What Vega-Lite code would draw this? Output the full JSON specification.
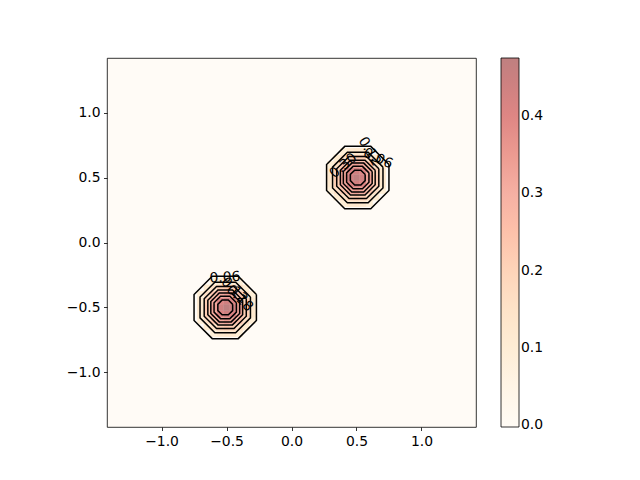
{
  "$schema": "https://vega.github.io/schema/vega-lite/v6.json",
  "width": 369,
  "height": 369,
  "autosize": {"type": "none"},
  "padding": {"left": 107, "top": 58, "right": 164, "bottom": 53},
  "background": "white",
  "config": {
    "view": {"fill": "#fffbf6", "stroke": "black", "strokeWidth": 0.8},
    "axis": {
      "grid": false,
      "domain": false,
      "tickColor": "black",
      "tickSize": 3.5,
      "tickWidth": 0.8,
      "labelFont": "DejaVu Sans",
      "labelFontSize": 13.9,
      "labelColor": "black",
      "labelPadding": 3.5,
      "title": null
    },
    "legend": {
      "gradientLength": 369,
      "gradientThickness": 18,
      "offset": 25,
      "padding": 0,
      "labelFont": "DejaVu Sans",
      "labelFontSize": 13.9,
      "labelColor": "black",
      "labelOffset": 7,
      "gradientStrokeColor": "black",
      "gradientStrokeWidth": 0.8
    },
    "text": {"font": "DejaVu Sans", "fontSize": 13.9}
  },
  "datasets": {
    "heat": [
      {"x": 0.5, "y": 0.3, "v": 0.132}, {"x": 0.5, "y": 0.35, "v": 0.231}, {"x": 0.5, "y": 0.4, "v": 0.345}, {"x": 0.5, "y": 0.45, "v": 0.438}, {"x": 0.5, "y": 0.5, "v": 0.475}, {"x": 0.5, "y": 0.55, "v": 0.438}, {"x": 0.5, "y": 0.6, "v": 0.345}, {"x": 0.5, "y": 0.65, "v": 0.231}, {"x": 0.5, "y": 0.7, "v": 0.132},
      {"x": 0.45, "y": 0.3, "v": 0.122}, {"x": 0.45, "y": 0.35, "v": 0.213}, {"x": 0.45, "y": 0.4, "v": 0.318}, {"x": 0.45, "y": 0.45, "v": 0.405}, {"x": 0.45, "y": 0.5, "v": 0.438}, {"x": 0.45, "y": 0.55, "v": 0.405}, {"x": 0.45, "y": 0.6, "v": 0.318}, {"x": 0.45, "y": 0.65, "v": 0.213}, {"x": 0.45, "y": 0.7, "v": 0.122},
      {"x": 0.55, "y": 0.3, "v": 0.122}, {"x": 0.55, "y": 0.35, "v": 0.213}, {"x": 0.55, "y": 0.4, "v": 0.318}, {"x": 0.55, "y": 0.45, "v": 0.405}, {"x": 0.55, "y": 0.5, "v": 0.438}, {"x": 0.55, "y": 0.55, "v": 0.405}, {"x": 0.55, "y": 0.6, "v": 0.318}, {"x": 0.55, "y": 0.65, "v": 0.213}, {"x": 0.55, "y": 0.7, "v": 0.122},
      {"x": 0.4, "y": 0.3, "v": 0.096}, {"x": 0.4, "y": 0.35, "v": 0.168}, {"x": 0.4, "y": 0.4, "v": 0.25}, {"x": 0.4, "y": 0.45, "v": 0.318}, {"x": 0.4, "y": 0.5, "v": 0.345}, {"x": 0.4, "y": 0.55, "v": 0.318}, {"x": 0.4, "y": 0.6, "v": 0.25}, {"x": 0.4, "y": 0.65, "v": 0.168}, {"x": 0.4, "y": 0.7, "v": 0.096},
      {"x": 0.6, "y": 0.3, "v": 0.096}, {"x": 0.6, "y": 0.35, "v": 0.168}, {"x": 0.6, "y": 0.4, "v": 0.25}, {"x": 0.6, "y": 0.45, "v": 0.318}, {"x": 0.6, "y": 0.5, "v": 0.345}, {"x": 0.6, "y": 0.55, "v": 0.318}, {"x": 0.6, "y": 0.6, "v": 0.25}, {"x": 0.6, "y": 0.65, "v": 0.168}, {"x": 0.6, "y": 0.7, "v": 0.096},
      {"x": 0.35, "y": 0.35, "v": 0.113}, {"x": 0.35, "y": 0.4, "v": 0.168}, {"x": 0.35, "y": 0.45, "v": 0.213}, {"x": 0.35, "y": 0.5, "v": 0.231}, {"x": 0.35, "y": 0.55, "v": 0.213}, {"x": 0.35, "y": 0.6, "v": 0.168}, {"x": 0.35, "y": 0.65, "v": 0.113},
      {"x": 0.65, "y": 0.35, "v": 0.113}, {"x": 0.65, "y": 0.4, "v": 0.168}, {"x": 0.65, "y": 0.45, "v": 0.213}, {"x": 0.65, "y": 0.5, "v": 0.231}, {"x": 0.65, "y": 0.55, "v": 0.213}, {"x": 0.65, "y": 0.6, "v": 0.168}, {"x": 0.65, "y": 0.65, "v": 0.113},
      {"x": 0.3, "y": 0.4, "v": 0.096}, {"x": 0.3, "y": 0.45, "v": 0.122}, {"x": 0.3, "y": 0.5, "v": 0.132}, {"x": 0.3, "y": 0.55, "v": 0.122}, {"x": 0.3, "y": 0.6, "v": 0.096},
      {"x": 0.7, "y": 0.4, "v": 0.096}, {"x": 0.7, "y": 0.45, "v": 0.122}, {"x": 0.7, "y": 0.5, "v": 0.132}, {"x": 0.7, "y": 0.55, "v": 0.122}, {"x": 0.7, "y": 0.6, "v": 0.096},

      {"x": -0.5, "y": -0.7, "v": 0.132}, {"x": -0.5, "y": -0.65, "v": 0.231}, {"x": -0.5, "y": -0.6, "v": 0.345}, {"x": -0.5, "y": -0.55, "v": 0.438}, {"x": -0.5, "y": -0.5, "v": 0.475}, {"x": -0.5, "y": -0.45, "v": 0.438}, {"x": -0.5, "y": -0.4, "v": 0.345}, {"x": -0.5, "y": -0.35, "v": 0.231}, {"x": -0.5, "y": -0.3, "v": 0.132},
      {"x": -0.55, "y": -0.7, "v": 0.122}, {"x": -0.55, "y": -0.65, "v": 0.213}, {"x": -0.55, "y": -0.6, "v": 0.318}, {"x": -0.55, "y": -0.55, "v": 0.405}, {"x": -0.55, "y": -0.5, "v": 0.438}, {"x": -0.55, "y": -0.45, "v": 0.405}, {"x": -0.55, "y": -0.4, "v": 0.318}, {"x": -0.55, "y": -0.35, "v": 0.213}, {"x": -0.55, "y": -0.3, "v": 0.122},
      {"x": -0.45, "y": -0.7, "v": 0.122}, {"x": -0.45, "y": -0.65, "v": 0.213}, {"x": -0.45, "y": -0.6, "v": 0.318}, {"x": -0.45, "y": -0.55, "v": 0.405}, {"x": -0.45, "y": -0.5, "v": 0.438}, {"x": -0.45, "y": -0.45, "v": 0.405}, {"x": -0.45, "y": -0.4, "v": 0.318}, {"x": -0.45, "y": -0.35, "v": 0.213}, {"x": -0.45, "y": -0.3, "v": 0.122},
      {"x": -0.6, "y": -0.7, "v": 0.096}, {"x": -0.6, "y": -0.65, "v": 0.168}, {"x": -0.6, "y": -0.6, "v": 0.25}, {"x": -0.6, "y": -0.55, "v": 0.318}, {"x": -0.6, "y": -0.5, "v": 0.345}, {"x": -0.6, "y": -0.45, "v": 0.318}, {"x": -0.6, "y": -0.4, "v": 0.25}, {"x": -0.6, "y": -0.35, "v": 0.168}, {"x": -0.6, "y": -0.3, "v": 0.096},
      {"x": -0.4, "y": -0.7, "v": 0.096}, {"x": -0.4, "y": -0.65, "v": 0.168}, {"x": -0.4, "y": -0.6, "v": 0.25}, {"x": -0.4, "y": -0.55, "v": 0.318}, {"x": -0.4, "y": -0.5, "v": 0.345}, {"x": -0.4, "y": -0.45, "v": 0.318}, {"x": -0.4, "y": -0.4, "v": 0.25}, {"x": -0.4, "y": -0.35, "v": 0.168}, {"x": -0.4, "y": -0.3, "v": 0.096},
      {"x": -0.65, "y": -0.65, "v": 0.113}, {"x": -0.65, "y": -0.6, "v": 0.168}, {"x": -0.65, "y": -0.55, "v": 0.213}, {"x": -0.65, "y": -0.5, "v": 0.231}, {"x": -0.65, "y": -0.45, "v": 0.213}, {"x": -0.65, "y": -0.4, "v": 0.168}, {"x": -0.65, "y": -0.35, "v": 0.113},
      {"x": -0.35, "y": -0.65, "v": 0.113}, {"x": -0.35, "y": -0.6, "v": 0.168}, {"x": -0.35, "y": -0.55, "v": 0.213}, {"x": -0.35, "y": -0.5, "v": 0.231}, {"x": -0.35, "y": -0.45, "v": 0.213}, {"x": -0.35, "y": -0.4, "v": 0.168}, {"x": -0.35, "y": -0.35, "v": 0.113},
      {"x": -0.7, "y": -0.6, "v": 0.096}, {"x": -0.7, "y": -0.55, "v": 0.122}, {"x": -0.7, "y": -0.5, "v": 0.132}, {"x": -0.7, "y": -0.45, "v": 0.122}, {"x": -0.7, "y": -0.4, "v": 0.096},
      {"x": -0.3, "y": -0.6, "v": 0.096}, {"x": -0.3, "y": -0.55, "v": 0.122}, {"x": -0.3, "y": -0.5, "v": 0.132}, {"x": -0.3, "y": -0.45, "v": 0.122}, {"x": -0.3, "y": -0.4, "v": 0.096}
    ],
    "cont": [
      {"c": "A1", "i": 0, "x": 0.75, "y": 0.6}, {"c": "A1", "i": 1, "x": 0.61, "y": 0.74}, {"c": "A1", "i": 2, "x": 0.41, "y": 0.74}, {"c": "A1", "i": 3, "x": 0.27, "y": 0.6}, {"c": "A1", "i": 4, "x": 0.27, "y": 0.4}, {"c": "A1", "i": 5, "x": 0.41, "y": 0.26}, {"c": "A1", "i": 6, "x": 0.61, "y": 0.26}, {"c": "A1", "i": 7, "x": 0.75, "y": 0.4}, {"c": "A1", "i": 8, "x": 0.75, "y": 0.6},
      {"c": "A2", "i": 0, "x": 0.704, "y": 0.58}, {"c": "A2", "i": 1, "x": 0.59, "y": 0.694}, {"c": "A2", "i": 2, "x": 0.43, "y": 0.694}, {"c": "A2", "i": 3, "x": 0.316, "y": 0.58}, {"c": "A2", "i": 4, "x": 0.316, "y": 0.42}, {"c": "A2", "i": 5, "x": 0.43, "y": 0.306}, {"c": "A2", "i": 6, "x": 0.59, "y": 0.306}, {"c": "A2", "i": 7, "x": 0.704, "y": 0.42}, {"c": "A2", "i": 8, "x": 0.704, "y": 0.58},
      {"c": "A3", "i": 0, "x": 0.672, "y": 0.567}, {"c": "A3", "i": 1, "x": 0.577, "y": 0.662}, {"c": "A3", "i": 2, "x": 0.443, "y": 0.662}, {"c": "A3", "i": 3, "x": 0.348, "y": 0.567}, {"c": "A3", "i": 4, "x": 0.348, "y": 0.433}, {"c": "A3", "i": 5, "x": 0.443, "y": 0.338}, {"c": "A3", "i": 6, "x": 0.577, "y": 0.338}, {"c": "A3", "i": 7, "x": 0.672, "y": 0.433}, {"c": "A3", "i": 8, "x": 0.672, "y": 0.567},
      {"c": "A4", "i": 0, "x": 0.644, "y": 0.556}, {"c": "A4", "i": 1, "x": 0.566, "y": 0.634}, {"c": "A4", "i": 2, "x": 0.454, "y": 0.634}, {"c": "A4", "i": 3, "x": 0.376, "y": 0.556}, {"c": "A4", "i": 4, "x": 0.376, "y": 0.444}, {"c": "A4", "i": 5, "x": 0.454, "y": 0.366}, {"c": "A4", "i": 6, "x": 0.566, "y": 0.366}, {"c": "A4", "i": 7, "x": 0.644, "y": 0.444}, {"c": "A4", "i": 8, "x": 0.644, "y": 0.556},
      {"c": "A5", "i": 0, "x": 0.621, "y": 0.546}, {"c": "A5", "i": 1, "x": 0.556, "y": 0.611}, {"c": "A5", "i": 2, "x": 0.464, "y": 0.611}, {"c": "A5", "i": 3, "x": 0.399, "y": 0.546}, {"c": "A5", "i": 4, "x": 0.399, "y": 0.454}, {"c": "A5", "i": 5, "x": 0.464, "y": 0.389}, {"c": "A5", "i": 6, "x": 0.556, "y": 0.389}, {"c": "A5", "i": 7, "x": 0.621, "y": 0.454}, {"c": "A5", "i": 8, "x": 0.621, "y": 0.546},
      {"c": "A6", "i": 0, "x": 0.596, "y": 0.536}, {"c": "A6", "i": 1, "x": 0.546, "y": 0.586}, {"c": "A6", "i": 2, "x": 0.474, "y": 0.586}, {"c": "A6", "i": 3, "x": 0.424, "y": 0.536}, {"c": "A6", "i": 4, "x": 0.424, "y": 0.464}, {"c": "A6", "i": 5, "x": 0.474, "y": 0.414}, {"c": "A6", "i": 6, "x": 0.546, "y": 0.414}, {"c": "A6", "i": 7, "x": 0.596, "y": 0.464}, {"c": "A6", "i": 8, "x": 0.596, "y": 0.536},
      {"c": "A7", "i": 0, "x": 0.567, "y": 0.524}, {"c": "A7", "i": 1, "x": 0.534, "y": 0.557}, {"c": "A7", "i": 2, "x": 0.486, "y": 0.557}, {"c": "A7", "i": 3, "x": 0.453, "y": 0.524}, {"c": "A7", "i": 4, "x": 0.453, "y": 0.476}, {"c": "A7", "i": 5, "x": 0.486, "y": 0.443}, {"c": "A7", "i": 6, "x": 0.534, "y": 0.443}, {"c": "A7", "i": 7, "x": 0.567, "y": 0.476}, {"c": "A7", "i": 8, "x": 0.567, "y": 0.524},
      {"c": "B1", "i": 0, "x": -0.27, "y": -0.4}, {"c": "B1", "i": 1, "x": -0.41, "y": -0.26}, {"c": "B1", "i": 2, "x": -0.61, "y": -0.26}, {"c": "B1", "i": 3, "x": -0.75, "y": -0.4}, {"c": "B1", "i": 4, "x": -0.75, "y": -0.6}, {"c": "B1", "i": 5, "x": -0.61, "y": -0.74}, {"c": "B1", "i": 6, "x": -0.41, "y": -0.74}, {"c": "B1", "i": 7, "x": -0.27, "y": -0.6}, {"c": "B1", "i": 8, "x": -0.27, "y": -0.4},
      {"c": "B2", "i": 0, "x": -0.316, "y": -0.42}, {"c": "B2", "i": 1, "x": -0.43, "y": -0.306}, {"c": "B2", "i": 2, "x": -0.59, "y": -0.306}, {"c": "B2", "i": 3, "x": -0.704, "y": -0.42}, {"c": "B2", "i": 4, "x": -0.704, "y": -0.58}, {"c": "B2", "i": 5, "x": -0.59, "y": -0.694}, {"c": "B2", "i": 6, "x": -0.43, "y": -0.694}, {"c": "B2", "i": 7, "x": -0.316, "y": -0.58}, {"c": "B2", "i": 8, "x": -0.316, "y": -0.42},
      {"c": "B3", "i": 0, "x": -0.348, "y": -0.433}, {"c": "B3", "i": 1, "x": -0.443, "y": -0.338}, {"c": "B3", "i": 2, "x": -0.577, "y": -0.338}, {"c": "B3", "i": 3, "x": -0.672, "y": -0.433}, {"c": "B3", "i": 4, "x": -0.672, "y": -0.567}, {"c": "B3", "i": 5, "x": -0.577, "y": -0.662}, {"c": "B3", "i": 6, "x": -0.443, "y": -0.662}, {"c": "B3", "i": 7, "x": -0.348, "y": -0.567}, {"c": "B3", "i": 8, "x": -0.348, "y": -0.433},
      {"c": "B4", "i": 0, "x": -0.376, "y": -0.444}, {"c": "B4", "i": 1, "x": -0.454, "y": -0.366}, {"c": "B4", "i": 2, "x": -0.566, "y": -0.366}, {"c": "B4", "i": 3, "x": -0.644, "y": -0.444}, {"c": "B4", "i": 4, "x": -0.644, "y": -0.556}, {"c": "B4", "i": 5, "x": -0.566, "y": -0.634}, {"c": "B4", "i": 6, "x": -0.454, "y": -0.634}, {"c": "B4", "i": 7, "x": -0.376, "y": -0.556}, {"c": "B4", "i": 8, "x": -0.376, "y": -0.444},
      {"c": "B5", "i": 0, "x": -0.399, "y": -0.454}, {"c": "B5", "i": 1, "x": -0.464, "y": -0.389}, {"c": "B5", "i": 2, "x": -0.556, "y": -0.389}, {"c": "B5", "i": 3, "x": -0.621, "y": -0.454}, {"c": "B5", "i": 4, "x": -0.621, "y": -0.546}, {"c": "B5", "i": 5, "x": -0.556, "y": -0.611}, {"c": "B5", "i": 6, "x": -0.464, "y": -0.611}, {"c": "B5", "i": 7, "x": -0.399, "y": -0.546}, {"c": "B5", "i": 8, "x": -0.399, "y": -0.454},
      {"c": "B6", "i": 0, "x": -0.424, "y": -0.464}, {"c": "B6", "i": 1, "x": -0.474, "y": -0.414}, {"c": "B6", "i": 2, "x": -0.546, "y": -0.414}, {"c": "B6", "i": 3, "x": -0.596, "y": -0.464}, {"c": "B6", "i": 4, "x": -0.596, "y": -0.536}, {"c": "B6", "i": 5, "x": -0.546, "y": -0.586}, {"c": "B6", "i": 6, "x": -0.474, "y": -0.586}, {"c": "B6", "i": 7, "x": -0.424, "y": -0.536}, {"c": "B6", "i": 8, "x": -0.424, "y": -0.464},
      {"c": "B7", "i": 0, "x": -0.453, "y": -0.476}, {"c": "B7", "i": 1, "x": -0.486, "y": -0.443}, {"c": "B7", "i": 2, "x": -0.534, "y": -0.443}, {"c": "B7", "i": 3, "x": -0.567, "y": -0.476}, {"c": "B7", "i": 4, "x": -0.567, "y": -0.524}, {"c": "B7", "i": 5, "x": -0.534, "y": -0.557}, {"c": "B7", "i": 6, "x": -0.486, "y": -0.557}, {"c": "B7", "i": 7, "x": -0.453, "y": -0.524}, {"c": "B7", "i": 8, "x": -0.453, "y": -0.476}
    ]
  },
  "layer": [
    {
      "data": {"name": "heat"},
      "mark": {"type": "square", "size": 46, "filled": true, "opacity": 1, "strokeWidth": 0},
      "encoding": {
        "x": {"field": "x", "type": "quantitative", "scale": {"domain": [-1.42, 1.42], "nice": false, "zero": false}, "axis": {"values": [-1, -0.5, 0, 0.5, 1], "format": ".1f"}},
        "y": {"field": "y", "type": "quantitative", "scale": {"domain": [-1.42, 1.42], "nice": false, "zero": false}, "axis": {"values": [-1, -0.5, 0, 0.5, 1], "format": ".1f"}},
        "color": {
          "field": "v", "type": "quantitative",
          "scale": {"domain": [-0.002, 0.475], "nice": false, "zero": false, "range": ["#fffbf6", "#fff4e4", "#feeacf", "#feddc2", "#fec6ac", "#f7b2a4", "#eb988f", "#d98080", "#bf8080"]},
          "legend": {
            "title": null, "values": [0, 0.1, 0.2, 0.3, 0.4], "format": ".1f", "direction": "vertical", "orient": "right",
            "encode": {"labels": {"enter": {"baseline": {"value": "middle"}}, "update": {"baseline": {"value": "middle"}}}}
          }
        }
      }
    },
    {
      "data": {"name": "cont"},
      "mark": {"type": "line", "color": "black", "strokeWidth": 1.5},
      "encoding": {
        "x": {"field": "x", "type": "quantitative"},
        "y": {"field": "y", "type": "quantitative"},
        "detail": {"field": "c"},
        "order": {"field": "i", "type": "quantitative"}
      }
    },
    {
      "data": {"values": [{"x": 0.665, "y": 0.645, "t": "0.06"}]},
      "mark": {"type": "text", "angle": 25, "color": "black"},
      "encoding": {"x": {"field": "x", "type": "quantitative"}, "y": {"field": "y", "type": "quantitative"}, "text": {"field": "t"}}
    },
    {
      "data": {"values": [{"x": 0.6, "y": 0.7, "t": "0.12"}]},
      "mark": {"type": "text", "angle": 60, "color": "black"},
      "encoding": {"x": {"field": "x", "type": "quantitative"}, "y": {"field": "y", "type": "quantitative"}, "text": {"field": "t"}}
    },
    {
      "data": {"values": [{"x": 0.4, "y": 0.59, "t": "0.30"}]},
      "mark": {"type": "text", "angle": -40, "color": "black"},
      "encoding": {"x": {"field": "x", "type": "quantitative"}, "y": {"field": "y", "type": "quantitative"}, "text": {"field": "t"}}
    },
    {
      "data": {"values": [{"x": -0.512, "y": -0.27, "t": "0.06"}]},
      "mark": {"type": "text", "angle": -3, "color": "black"},
      "encoding": {"x": {"field": "x", "type": "quantitative"}, "y": {"field": "y", "type": "quantitative"}, "text": {"field": "t"}}
    },
    {
      "data": {"values": [{"x": -0.44, "y": -0.37, "t": "0.12"}, {"x": -0.4, "y": -0.43, "t": "0.18"}]},
      "mark": {"type": "text", "angle": 45, "color": "black"},
      "encoding": {"x": {"field": "x", "type": "quantitative"}, "y": {"field": "y", "type": "quantitative"}, "text": {"field": "t"}}
    }
  ]
}
